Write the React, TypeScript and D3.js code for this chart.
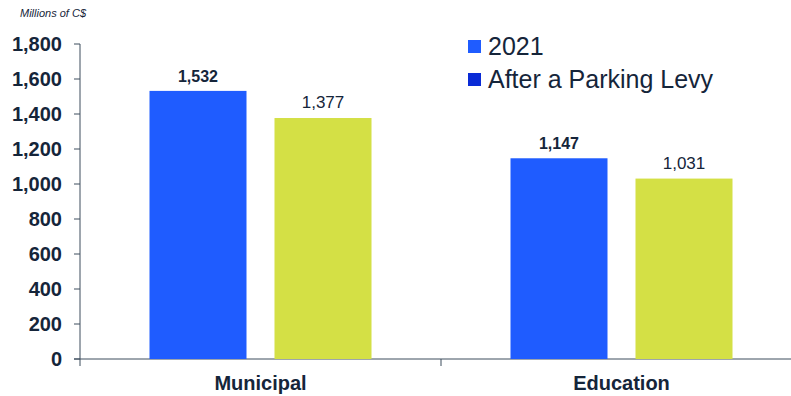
import React from "react";
import * as d3 from "d3";

const categories = ["Municipal", "Education"];
const seriesNames = ["2021", "After a Parking Levy"];
const values2021 = [1532, 1147];
const valuesLevy = [1377, 1031];
const yTicks = [0, 200, 400, 600, 800, 1000, 1200, 1400, 1600, 1800];

const W = 791;
const H = 396;
const left = 80;
const right = 802;
const y0 = 359;
const yTop = 44;
const textColor = "#15253a";
const axisColor = "#3c4c5c";
const barColors = ["#1f5cff", "#d4e045"];
const legendColors = ["#1f5cff", "#0a2bd6"];

export default function App() {
  const x = d3.scaleBand<string>().domain(categories).range([left, right]);
  const y = d3.scaleLinear().domain([0, 1800]).range([y0, yTop]);
  const fmt = d3.format(",");
  const barW = 97;
  const gap = 28;
  const series = [values2021, valuesLevy];

  return (
    <svg
      width={W}
      height={H}
      style={{ position: "absolute", left: 0, top: 0, fontFamily: "'Liberation Sans', Arial, sans-serif" }}
    >
      <rect width={W} height={H} fill="#fff" />
      <text x={20} y={17} fontSize={11} fontStyle="italic" fill={textColor}>
        Millions of C$
      </text>
      {/* y axis */}
      <line x1={left} x2={left} y1={yTop} y2={366} stroke={axisColor} strokeWidth={1} />
      {yTicks.map((t) => (
        <g key={t}>
          <line x1={left - 6} x2={left} y1={y(t)} y2={y(t)} stroke={axisColor} />
          <text
            x={62}
            y={y(t)}
            dy="0.35em"
            textAnchor="end"
            fontSize={20}
            fontWeight="bold"
            fill={textColor}
          >
            {fmt(t)}
          </text>
        </g>
      ))}
      {/* x axis */}
      <line x1={left - 6} x2={W} y1={y0} y2={y0} stroke={axisColor} />
      {categories.map((c) => (
        <line
          key={"t" + c}
          x1={x(c)! + x.bandwidth()}
          x2={x(c)! + x.bandwidth()}
          y1={y0}
          y2={366}
          stroke={axisColor}
        />
      ))}
      {categories.map((c, i) => {
        const cx = x(c)! + x.bandwidth() / 2;
        return (
          <g key={c}>
            {series.map((s, j) => {
              const bx = j === 0 ? cx - gap / 2 - barW : cx + gap / 2;
              return (
                <g key={j}>
                  <rect x={bx} y={y(s[i])} width={barW} height={y0 - y(s[i])} fill={barColors[j]} />
                  <text
                    x={bx + barW / 2}
                    y={y(s[i]) - (j === 0 ? 9 : 10)}
                    textAnchor="middle"
                    fontSize={j === 0 ? 16 : 17}
                    fontWeight={j === 0 ? "bold" : "normal"}
                    fill={textColor}
                  >
                    {fmt(s[i])}
                  </text>
                </g>
              );
            })}
            <text x={cx} y={390} textAnchor="middle" fontSize={20} fontWeight="bold" fill={textColor}>
              {c}
            </text>
          </g>
        );
      })}
      {/* legend */}
      {seriesNames.map((n, j) => (
        <g key={n} transform={`translate(468, ${40 + j * 33})`}>
          <rect x={0} y={0} width={13} height={13} fill={legendColors[j]} />
          <text x={20} y={15} fontSize={25} fill={textColor}>
            {n}
          </text>
        </g>
      ))}
    </svg>
  );
}
